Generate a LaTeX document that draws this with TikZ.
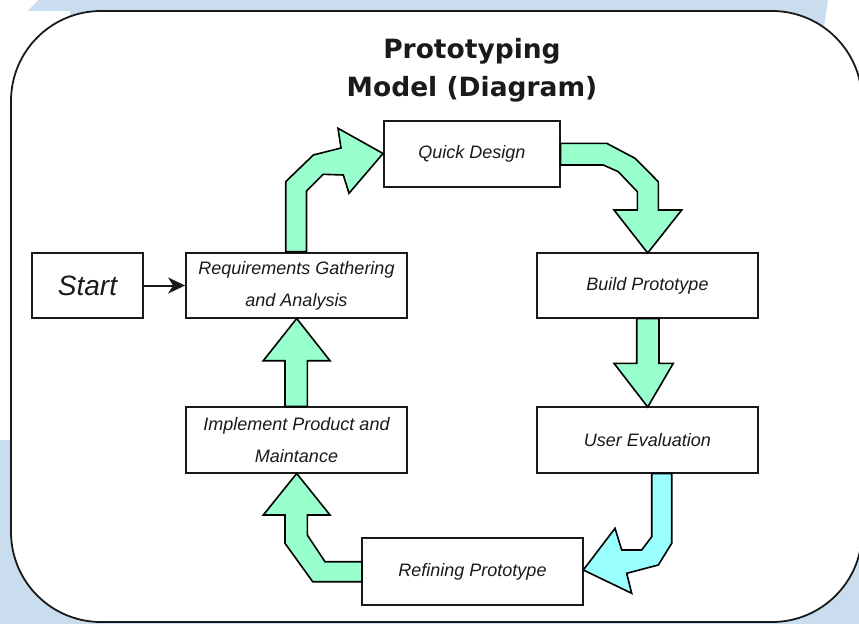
\documentclass[tikz,border=0pt]{standalone}
\usepackage{fontspec}
\setmainfont{Liberation Sans}
\newfontfamily\titlefont{DejaVu Sans}
\usetikzlibrary{arrows.meta}
\definecolor{bgblue}{HTML}{C9DDEE}
\definecolor{mint}{HTML}{99FFCC}
\definecolor{aqua}{HTML}{99FFFF}
\definecolor{ink}{HTML}{1A1A1A}
\tikzset{
  stagebox/.style={draw=ink, line width=1.8pt, fill=white, rectangle, inner sep=0pt,
    align=center, font=\itshape\fontsize{18}{32}\selectfont, text=ink},
  blockarrow/.style={draw=black, line width=1.6pt, fill=mint, line join=miter},
  blockarrowc/.style={draw=black, line width=1.6pt, fill=aqua, line join=miter},
}
\begin{document}
\begin{tikzpicture}[x=1pt,y=-1pt]
\useasboundingbox (0,0) rectangle (859,624);
% background
\fill[bgblue] (0,0) rectangle (859,624);
\fill[white] (0,11) rectangle (10.5,440);
\fill[white] (0,11) rectangle (70,100);
\fill[white] (0,0) -- (38,0) -- (10,30) -- (0,30) -- cycle;
\fill[white] (828,0) -- (859,0) -- (859,70) -- (818,70) -- cycle;
\draw[draw=ink, line width=1.8pt, fill=white, rounded corners=90pt] (11,11) rectangle (862,622);

% title
\node (title) [font=\titlefont\bfseries\fontsize{26.5}{38}\selectfont, align=center, text=ink, inner sep=0pt, anchor=base] at (472,96) {Prototyping\\Model (Diagram)};

% boxes
\node (start) [stagebox, minimum width=111pt, minimum height=65pt, font=\itshape\fontsize{28}{32}\selectfont] at (87.5,285.5) {Start};
\node (req) [stagebox, minimum width=221pt, minimum height=65pt] at (296.5,285.5) {Requirements Gathering\\and Analysis};
\node (qd) [stagebox, minimum width=176pt, minimum height=66pt] at (472,154) {Quick Design};
\node (build) [stagebox, minimum width=221pt, minimum height=65pt] at (647.5,285.5) {Build Prototype};
\node (user) [stagebox, minimum width=221pt, minimum height=66pt] at (647.5,440) {User Evaluation};
\node (impl) [stagebox, minimum width=221pt, minimum height=66pt] at (296.5,440) {Implement Product and\\Maintance};
\node (refine) [stagebox, minimum width=221pt, minimum height=67pt] at (472.5,571.5) {Refining Prototype};

% start -> requirements
\draw[ink, line width=2pt, -{Stealth[length=17pt,width=16pt,inset=5pt]}] (start) -- (req);

% block arrows
% requirements -> quick design
\draw[blockarrow] (285.7,251.7) -- (285.7,181.7) -- (313.3,155) -- (341,148) -- (338,128.3)
  -- (383,153.5) -- (349,193.3) -- (343.3,175) -- (323.3,174.3) -- (306.5,191) -- (306.5,251.7) -- cycle;
% quick design -> build prototype
\draw[blockarrow] (560.5,143.3) -- (606.7,143.3) -- (635,158.3) -- (658.3,181.7) -- (658.3,210)
  -- (681.7,210) -- (647.7,253) -- (614,210) -- (637.3,210) -- (637.3,191.7) -- (618.3,171.7)
  -- (603.3,165) -- (560.5,165) -- cycle;
% build -> user evaluation
\draw[blockarrow] (636.7,318.5) -- (636.7,363.3) -- (614,363.3) -- (647.7,407) -- (673.3,363.3)
  -- (659,363.3) -- (659,318.5) -- cycle;
% user evaluation -> refining
\draw[blockarrowc] (671.7,473.5) -- (671.7,543.3) -- (658.3,565) -- (626.7,573.3) -- (631.7,593.3)
  -- (583.3,570) -- (615,528.3) -- (621.7,550) -- (641.7,550) -- (651.7,536.7) -- (651.7,473.5) -- cycle;
% refining -> implement
\draw[blockarrow] (362,561.7) -- (325,561.7) -- (307.3,535) -- (307.3,515) -- (330,515)
  -- (296.7,473.5) -- (263.3,515) -- (285,515) -- (285,543.3) -- (312.7,581.7) -- (362,581.7) -- cycle;
% implement -> requirements
\draw[blockarrow] (285,406.5) -- (285,360.7) -- (263.3,360.7) -- (296.7,318.5) -- (330,360.7)
  -- (307.3,360.7) -- (307.3,406.5) -- cycle;
\end{tikzpicture}
\end{document}
